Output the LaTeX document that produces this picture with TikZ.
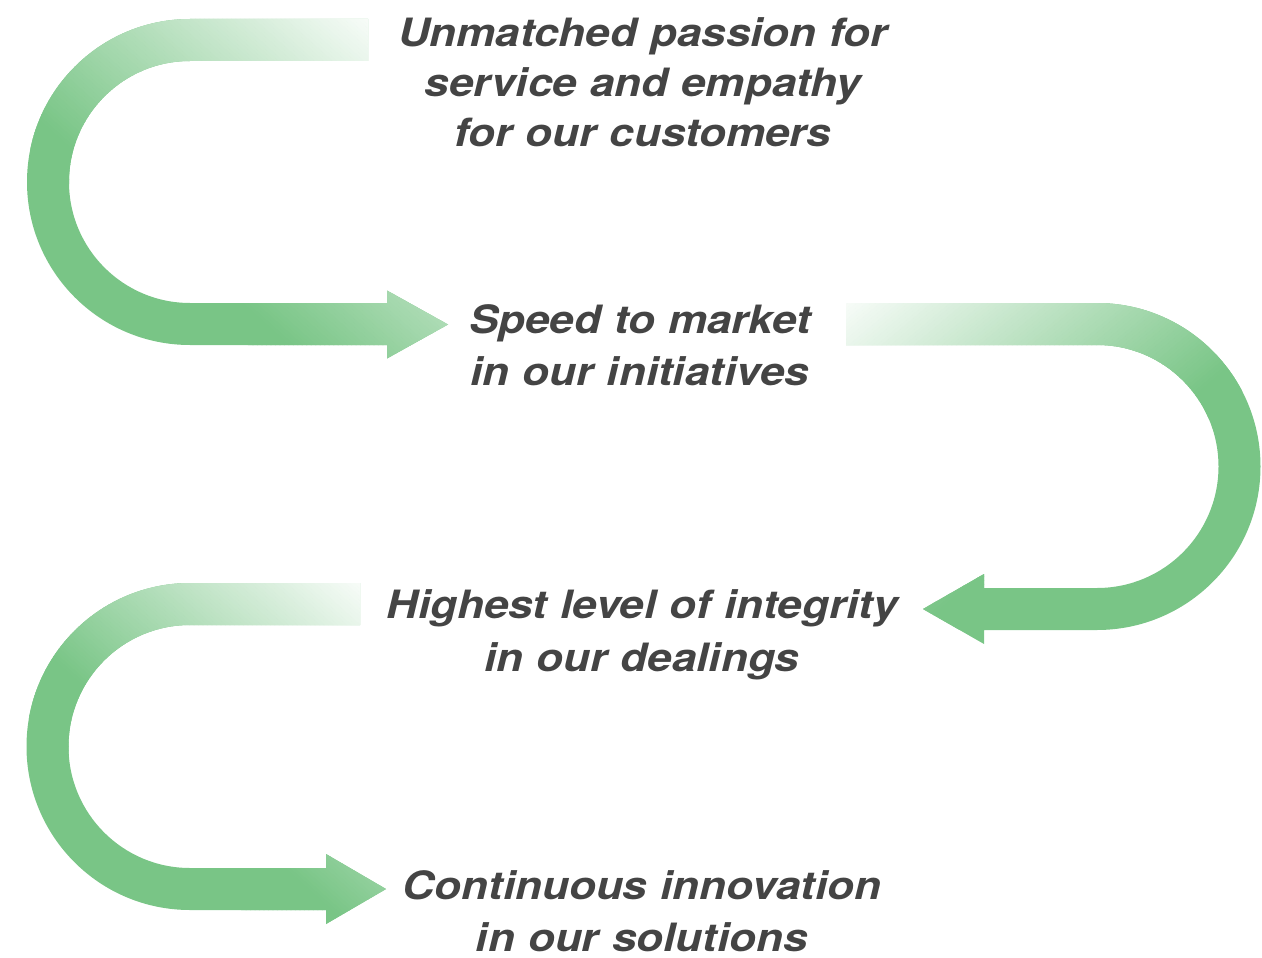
\documentclass[tikz,border=0pt]{standalone}
\usepackage{fontspec}
\newfontfamily\lblfont{TeX Gyre Heros}[FakeStretch=1.13]
\definecolor{arrowgreen}{RGB}{121,197,134}
\definecolor{txtgray}{RGB}{68,68,68}
\newcommand{\gradstripes}[5]{%
  \begin{scope}[shift={(#1,#2)}, rotate=#3]
    \foreach \s in {-20,-17,...,320} {
      \pgfmathsetmacro{\a}{min(100,max(0,#4+#5*\s))}
      \fill[arrowgreen!\a!white] (\s,-800) rectangle (\s+3.6,800);
    }
  \end{scope}}
\tikzset{
  lbl/.style={font=\lblfont\bfseries\itshape\fontsize{39}{#1}\selectfont,
    text=txtgray, align=center, text width=700pt, anchor=base, inner sep=0pt},
  lbl/.default=52
}
\begin{document}
\begin{tikzpicture}[x=1pt,y=1pt]
\useasboundingbox (0,0) rectangle (1262,-958);
% arrow 1
\begin{scope}
  \clip (368,-19) -- (190,-19) arc[start angle=90, end angle=270, radius=163]
     -- (387,-345) -- (387,-358.5) -- (448,-324.5) -- (387,-290.5) -- (387,-303)
     -- (190,-303) arc[start angle=270, end angle=90, radius=121] -- (368,-61) -- cycle;
  \fill[arrowgreen] (0,0) rectangle (480,-380);
  \gradstripes{368}{-19}{228}{6}{0.32}
\end{scope}
% arrow 2
\begin{scope}
  \clip (846,-303) -- (1097,-303) arc[start angle=90, end angle=-90, radius=163.5]
     -- (984,-630) -- (984,-644) -- (923,-609) -- (984,-574) -- (984,-588)
     -- (1097,-588) arc[start angle=-90, end angle=90, radius=121.5] -- (846,-345) -- cycle;
  \fill[arrowgreen] (840,-290) rectangle (1262,-660);
  \gradstripes{846}{-303}{-50}{6}{0.32}
\end{scope}
% arrow 3
\begin{scope}
  \clip (360,-583) -- (190,-583) arc[start angle=90, end angle=270, radius=163.5]
     -- (326,-910) -- (326,-924) -- (386,-889) -- (326,-854) -- (326,-868)
     -- (190,-868) arc[start angle=270, end angle=90, radius=121.5] -- (360,-625) -- cycle;
  \fill[arrowgreen] (0,-570) rectangle (400,-940);
  \gradstripes{360}{-583}{228}{6}{0.36}
\end{scope}
% texts
\node[lbl=50] (t1) at (643,-47) {Unmatched passion for\\service and empathy\\for our customers};
\node[lbl=52] (t2) at (640,-333) {Speed to market\\in our initiatives};
\node[lbl=53] (t3) at (642,-618) {Highest level of integrity\\in our dealings};
\node[lbl=52] (t4) at (642,-899) {Continuous innovation\\in our solutions};
\end{tikzpicture}
\end{document}
